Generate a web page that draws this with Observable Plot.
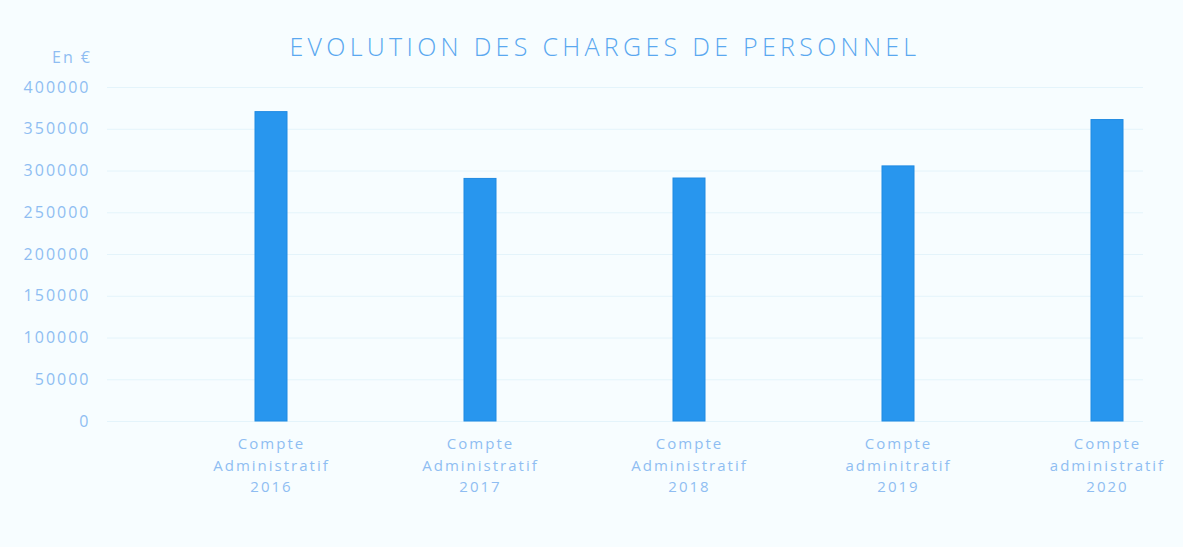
<!DOCTYPE html>
<html>
<head>
<meta charset="utf-8">
<script src="https://cdn.jsdelivr.net/npm/d3@7"></script>
<script src="https://cdn.jsdelivr.net/npm/@observablehq/plot@0.6"></script>
<style>
  html, body { margin: 0; padding: 0; background: #f7fdff; }
  #wrap { position: relative; width: 1183px; height: 547px; overflow: hidden; font-family: "Open Sans", sans-serif; }
  #head { position: relative; height: 60px; }
  #title { position: absolute; top: 29px; left: 0; width: 1210px; text-align: center; font-size: 25px; letter-spacing: 4.3px; color: #5aa8f0; font-weight: 300; line-height: 34px; }
  #unit { position: absolute; top: 46px; left: 52px; font-size: 16px; letter-spacing: 2px; color: #8fbdf2; }
</style>
</head>
<body>
<div id="wrap">
  <div id="head">
    <div id="title">EVOLUTION DES CHARGES DE PERSONNEL</div>
    <div id="unit">En €</div>
  </div>
  <div id="chart"></div>
</div>
<script>
const categories = [
  "Compte\nAdministratif\n2016",
  "Compte\nAdministratif\n2017",
  "Compte\nAdministratif\n2018",
  "Compte\nadminitratif\n2019",
  "Compte\nadministratif\n2020"
];
const values = [370500, 290500, 291000, 305500, 361000];
const yTicks = [0, 50000, 100000, 150000, 200000, 250000, 300000, 350000, 400000];

const data = categories.map((c, i) => ({category: c, value: values[i]}));

const plot = Plot.plot({
  width: 1183,
  height: 487,
  marginTop: 27,
  marginBottom: 126,
  marginLeft: 107,
  marginRight: 40,
  style: {background: "transparent", fontFamily: "Open Sans, sans-serif", letterSpacing: "2px"},
  x: {domain: categories, range: [165, 1213], paddingInner: 0.847, paddingOuter: 0.425},
  y: {domain: [0, 400000], ticks: yTicks},
  marks: [
    Plot.gridY(yTicks, {stroke: "#e4f4fb", strokeOpacity: 1}),
    Plot.barY(data, {x: "category", y: "value", fill: "#2896ee", stroke: "#1f8ae2", strokeWidth: 1}),
    Plot.axisY(yTicks, {tickSize: 0, tickPadding: 17, tickFormat: d => String(d), fontSize: 16, fill: "#8fbdf2", label: null}),
    Plot.axisX({tickSize: 0, tickPadding: 12, fontSize: 15, lineHeight: 1.45, fill: "#8fbdf2", label: null, textAnchor: "middle"})
  ]
});
document.getElementById("chart").appendChild(plot);
</script>
</body>
</html>
